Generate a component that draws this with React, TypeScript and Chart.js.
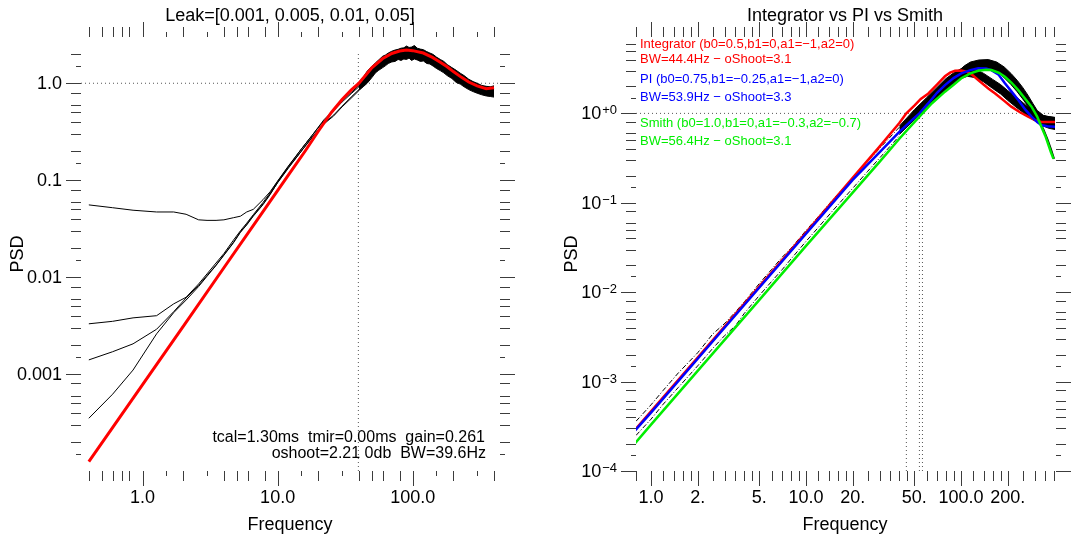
import React, { useEffect, useRef } from "react";
import { Chart, registerables } from "chart.js";

Chart.register(...registerables);

const FONT = '"Liberation Sans", Arial, Helvetica, sans-serif';

// ---------------- Left panel data ----------------
const leftTitle = "Leak=[0.001, 0.005, 0.01, 0.05]";
const leftInfo1 = "tcal=1.30ms  tmir=0.00ms  gain=0.261";
const leftInfo2 = "oshoot=2.21 0db  BW=39.6Hz";
const leftBW = 39.6;
const leftBWTop = 2.1;

const leftFreq = [0.4, 0.6, 0.85, 1.27, 1.7, 2.1, 2.6, 3.0, 3.5, 4.0, 4.7, 5.3, 5.9, 6.6, 7.8, 8.8, 10, 12, 15, 18, 22, 26, 30, 35, 40, 45, 50, 60, 70, 80, 90, 100, 120, 140, 160, 200, 250, 300, 350, 400];
const psdLeak005 = [0.0556, 0.052, 0.049, 0.047, 0.047, 0.0445, 0.039, 0.0385, 0.0385, 0.039, 0.041, 0.0425, 0.047, 0.05, 0.063, 0.076, 0.098, 0.14, 0.21, 0.29, 0.42, 0.53, 0.66, 0.8, 0.95, 1.1, 1.3, 1.65, 1.9, 2.02, 2.05, 2.02, 1.92, 1.75, 1.55, 1.22, 1.0, 0.87, 0.8, 0.8];
const psdLeak001 = [0.0033, 0.0035, 0.0038, 0.004, 0.0053, 0.0062, 0.0085, 0.0108, 0.014, 0.0175, 0.024, 0.03, 0.036, 0.044, 0.059, 0.074, 0.097, 0.138, 0.21, 0.29, 0.41, 0.52, 0.64, 0.78, 0.92, 1.08, 1.28, 1.62, 1.87, 2.0, 2.04, 2.02, 1.9, 1.73, 1.54, 1.2, 0.98, 0.86, 0.8, 0.79];
const psdLeak0005 = [0.0014, 0.0017, 0.00205, 0.0029, 0.0044, 0.0061, 0.0082, 0.0104, 0.0133, 0.017, 0.0228, 0.0292, 0.035, 0.043, 0.057, 0.072, 0.094, 0.133, 0.2, 0.275, 0.38, 0.46, 0.57, 0.7, 0.84, 1.0, 1.2, 1.55, 1.82, 1.95, 2.0, 1.98, 1.88, 1.7, 1.5, 1.18, 0.96, 0.84, 0.78, 0.77];
const psdLeak0001 = [0.00035, 0.00062, 0.0011, 0.0026, 0.0043, 0.0058, 0.008, 0.0102, 0.0132, 0.0168, 0.0225, 0.029, 0.0345, 0.0425, 0.056, 0.071, 0.095, 0.135, 0.2, 0.28, 0.385, 0.47, 0.58, 0.72, 0.86, 1.02, 1.22, 1.58, 1.84, 1.97, 2.01, 2.0, 1.89, 1.71, 1.52, 1.19, 0.97, 0.85, 0.79, 0.78];

const leftModelFreq = [0.4, 1, 2, 4, 8, 12, 16, 20, 25, 30, 35, 40, 50, 60, 70, 80, 90, 100, 120, 140, 160, 180, 200, 230, 260, 300, 350, 400];
const leftModelPsd = [1.25e-4, 7.8e-4, 3.1e-3, 0.0125, 0.05, 0.113, 0.2, 0.32, 0.5, 0.68, 0.85, 1.0, 1.45, 1.8, 2.03, 2.15, 2.2, 2.17, 2.05, 1.85, 1.65, 1.48, 1.32, 1.15, 1.03, 0.94, 0.88, 0.9];

const leftNoiseFreq = [40, 43, 46, 50, 53, 56, 60, 63, 66, 70, 74, 78, 82, 86, 90, 94, 98, 103, 108, 114, 120, 127, 134, 142, 150, 160, 170, 180, 195, 210, 225, 240, 260, 280, 300, 325, 350, 375, 400];
const leftNoiseHigh = [1.03, 1.15, 1.33, 1.5, 1.62, 1.74, 1.9, 1.96, 2.05, 2.14, 2.2, 2.24, 2.3, 2.32, 2.42, 2.34, 2.36, 2.45, 2.3, 2.25, 2.22, 2.12, 2.05, 1.98, 1.86, 1.76, 1.68, 1.56, 1.45, 1.36, 1.27, 1.2, 1.1, 1.04, 1.0, 0.95, 0.93, 0.92, 0.94];
const leftNoiseLow = [0.85, 0.92, 1.0, 1.15, 1.28, 1.36, 1.45, 1.52, 1.6, 1.66, 1.68, 1.76, 1.72, 1.78, 1.76, 1.82, 1.72, 1.78, 1.74, 1.68, 1.7, 1.6, 1.58, 1.5, 1.42, 1.35, 1.28, 1.2, 1.12, 1.02, 0.98, 0.92, 0.86, 0.82, 0.79, 0.76, 0.74, 0.73, 0.72];

const leftXMajor = [1, 10, 100];
const leftXLabels = ["1.0", "10.0", "100.0"];
const leftXMinor = [0.4, 0.5, 0.6, 0.7, 0.8, 2, 4, 5, 6, 8, 20, 40, 50, 60, 80, 200, 400];
const leftXShort = [1.5, 3, 15, 30, 150, 300];
const leftYMajor = [0.001, 0.01, 0.1, 1];
const leftYLabels = ["0.001", "0.01", "0.1", "1.0"];
const leftYMinor = [2e-4, 3e-4, 4e-4, 5e-4, 6e-4, 8e-4, 2e-3, 3e-3, 4e-3, 5e-3, 6e-3, 8e-3, 0.02, 0.03, 0.04, 0.05, 0.06, 0.08, 0.2, 0.3, 0.4, 0.5, 0.6, 0.8, 2];
const leftYShort = [1.5e-4, 1.5e-3, 0.015, 0.15, 1.5];

// ---------------- Right panel data ----------------
const rightTitle = "Integrator vs PI vs Smith";
const legendIntegrator = ["Integrator (b0=0.5,b1=0,a1=\u22121,a2=0)", "BW=44.4Hz \u2212 oShoot=3.1"];
const legendPI = ["PI (b0=0.75,b1=\u22120.25,a1=\u22121,a2=0)", "BW=53.9Hz \u2212 oShoot=3.3"];
const legendSmith = ["Smith (b0=1.0,b1=0,a1=\u22120.3,a2=\u22120.7)", "BW=56.4Hz \u2212 oShoot=3.1"];
const rightBW = [44.4, 53.9, 56.4];
const rightBWTop = [0.65, 0.95, 0.97];

const intFreq = [0.79, 1, 2, 5, 10, 20, 30, 40, 44.4, 50, 55, 61.6, 70, 78.8, 85, 91.5, 100, 108.8, 118, 129, 150, 166, 190, 211, 240, 271, 300, 330, 360, 404];
const intPsd = [2.9e-4, 4.64e-4, 1.86e-3, 0.0116, 0.0464, 0.19, 0.43, 0.78, 1.0, 1.22, 1.45, 1.67, 2.1, 2.6, 2.85, 3.0, 3.02, 2.93, 2.7, 2.36, 1.9, 1.67, 1.38, 1.19, 1.03, 0.92, 0.84, 0.8, 0.8, 0.8];
const piFreq = [0.79, 1, 2, 5, 10, 20, 30, 40, 48.2, 53.9, 61.6, 70, 78.8, 90, 100.5, 115, 129, 145, 157, 175, 192, 212, 234, 260, 285, 310, 330, 360, 404];
const piPsd = [2.85e-4, 4.5e-4, 1.8e-3, 0.0113, 0.045, 0.18, 0.37, 0.62, 0.84, 1.0, 1.3, 1.7, 2.07, 2.5, 2.8, 3.05, 3.19, 3.17, 3.05, 2.7, 2.17, 1.75, 1.41, 1.1, 0.92, 0.8, 0.74, 0.72, 0.71];
const smithFreq = [0.79, 1, 2, 5, 10, 20, 30, 40, 50, 56.4, 65, 78.8, 90, 100.5, 115, 129, 145, 157, 175, 192, 212, 234, 260, 285, 310, 330, 350, 364, 380, 395];
const smithPsd = [2.05e-4, 3.3e-4, 1.32e-3, 8.2e-3, 0.033, 0.13, 0.29, 0.52, 0.8, 1.0, 1.3, 1.75, 2.1, 2.47, 2.8, 3.0, 3.08, 3.05, 2.85, 2.57, 2.2, 1.82, 1.45, 1.19, 0.92, 0.71, 0.56, 0.46, 0.37, 0.31];

const rightDataFreq = [0.8, 1, 1.2, 1.5, 2, 2.5, 3, 3.5, 4, 5, 6, 7, 8, 10, 12, 15, 20, 25, 30, 40];
const rightDataHi = [3.6e-4, 5.5e-4, 8.0e-4, 1.25e-3, 2.1e-3, 3.4e-3, 4.5e-3, 6.0e-3, 7.8e-3, 0.0125, 0.018, 0.0245, 0.031, 0.049, 0.07, 0.11, 0.19, 0.29, 0.41, 0.7];
const rightDataLo = [2.5e-4, 3.8e-4, 5.6e-4, 8.6e-4, 1.5e-3, 2.35e-3, 3.3e-3, 4.2e-3, 5.8e-3, 9.2e-3, 0.0132, 0.0178, 0.0235, 0.037, 0.053, 0.083, 0.145, 0.225, 0.32, 0.56];

const rightBandAFreq = [40, 50, 60, 70, 80, 90, 100, 110, 125, 140, 160, 180, 200, 230, 260, 290, 320, 360, 404];
const rightBandAHigh = [0.72, 1.1, 1.5, 1.95, 2.45, 2.85, 3.15, 3.25, 3.1, 2.8, 2.4, 2.1, 1.8, 1.5, 1.25, 1.06, 0.96, 0.92, 0.9];
const rightBandALow = [0.58, 0.85, 1.15, 1.45, 1.8, 2.15, 2.45, 2.6, 2.5, 2.25, 1.9, 1.65, 1.4, 1.15, 0.98, 0.85, 0.78, 0.72, 0.7];
const rightBandBFreq = [85, 95, 105, 115, 130, 150, 170, 190, 210, 230, 250, 270, 290, 310, 340, 370, 404];
const rightBandBHigh = [2.4, 2.9, 3.4, 3.75, 3.95, 4.0, 3.75, 3.3, 2.8, 2.35, 1.95, 1.6, 1.3, 1.08, 0.95, 0.92, 0.9];
const rightBandBLow = [2.0, 2.4, 2.75, 3.0, 3.15, 3.2, 2.95, 2.5, 2.1, 1.75, 1.45, 1.2, 0.98, 0.82, 0.72, 0.68, 0.66];
const rightTailFreq = [320, 340, 360, 380, 398];
const rightTailPsd = [0.8, 0.66, 0.52, 0.4, 0.31];

const rightXMajor = [1, 2, 5, 10, 20, 50, 100, 200];
const rightXLabels = ["1.0", "2.", "5.", "10.0", "20.", "50.", "100.0", "200."];
const rightXMinor = [0.8, 1.2, 1.4, 1.6, 1.8, 2.5, 3, 3.5, 4, 4.5, 6, 7, 8, 9, 12, 14, 16, 18, 25, 30, 35, 40, 45, 60, 70, 80, 90, 120, 140, 160, 180, 250, 300, 350, 400];
const rightYMajor = [1e-4, 1e-3, 1e-2, 1e-1, 1];
const rightYLabels = ["10", "10", "10", "10", "10"];
const rightYExp = ["\u22124", "\u22123", "\u22122", "\u22121", "+0"];
const rightYMinor = [2e-4, 3e-4, 4e-4, 5e-4, 6e-4, 8e-4, 2e-3, 3e-3, 4e-3, 5e-3, 6e-3, 8e-3, 0.02, 0.03, 0.04, 0.05, 0.06, 0.08, 0.2, 0.3, 0.4, 0.5, 0.6, 0.8, 2, 3, 4, 5, 6];
const rightYShort = [1.5e-4, 1.5e-3, 0.015, 0.15, 1.5];

const RED = "#ff0000";
const BLUE = "#0000ff";
const GREEN = "#00ee00";

// ---------------- helpers ----------------
const pts = (xs: number[], ys: number[]) => xs.map((x, i) => ({ x, y: ys[i] }));

type Txt = { text: string; x: number; y: number; size: number; color?: string; align?: CanvasTextAlign; rotate?: boolean };
type AxisSpec = {
  xMajor: number[]; xMinor: number[]; xShort: number[]; xLabels: string[];
  yMajor: number[]; yMinor: number[]; yShort: number[]; yLabels: string[]; yExp?: string[];
  texts: Txt[];
};

function makeAxesPlugin(spec: AxisSpec) {
  return {
    id: "idlAxes",
    afterDraw(chart: any) {
      const ctx: CanvasRenderingContext2D = chart.ctx;
      const a = chart.chartArea;
      const xs = chart.scales.x;
      const ys = chart.scales.y;
      ctx.save();
      ctx.strokeStyle = "#3c3c3c";
      ctx.lineWidth = 1;
      ctx.beginPath();
      const xt = (vals: number[], len: number) => {
        for (const v of vals) {
          const p = Math.round(xs.getPixelForValue(v)) + 0.5;
          ctx.moveTo(p, a.bottom); ctx.lineTo(p, a.bottom + len);
          ctx.moveTo(p, a.top); ctx.lineTo(p, a.top - len);
        }
      };
      const yt = (vals: number[], len: number) => {
        for (const v of vals) {
          const p = Math.round(ys.getPixelForValue(v)) + 0.5;
          ctx.moveTo(a.left - len, p); ctx.lineTo(a.left, p);
          ctx.moveTo(a.right, p); ctx.lineTo(a.right + len, p);
        }
      };
      xt(spec.xMajor, 15); xt(spec.xMinor, 10); xt(spec.xShort, 5);
      yt(spec.yMajor, 15); yt(spec.yMinor, 10); yt(spec.yShort, 5);
      ctx.stroke();

      ctx.fillStyle = "#000";
      ctx.font = `18px ${FONT}`;
      ctx.textAlign = "center";
      ctx.textBaseline = "middle";
      spec.xMajor.forEach((v, i) => {
        ctx.fillText(spec.xLabels[i], xs.getPixelForValue(v), a.bottom + 27);
      });
      spec.yMajor.forEach((v, i) => {
        const p = ys.getPixelForValue(v);
        const right = a.left - 19;
        if (spec.yExp) {
          ctx.font = `13px ${FONT}`;
          const ew = ctx.measureText(spec.yExp[i]).width;
          ctx.textAlign = "left";
          ctx.textBaseline = "alphabetic";
          ctx.fillText(spec.yExp[i], right - ew, p + 1);
          ctx.font = `18px ${FONT}`;
          ctx.textAlign = "right";
          ctx.textBaseline = "middle";
          ctx.fillText(spec.yLabels[i], right - ew - 1, p + 1);
        } else {
          ctx.font = `18px ${FONT}`;
          ctx.textAlign = "right";
          ctx.textBaseline = "middle";
          ctx.fillText(spec.yLabels[i], right, p + 1);
        }
      });
      for (const t of spec.texts) {
        ctx.save();
        ctx.font = `${t.size}px ${FONT}`;
        ctx.fillStyle = t.color || "#000";
        ctx.textAlign = t.align || "center";
        ctx.textBaseline = "middle";
        ctx.translate(t.x, t.y);
        if (t.rotate) ctx.rotate(-Math.PI / 2);
        ctx.fillText(t.text, 0, 0);
        ctx.restore();
      }
      ctx.restore();
    },
  };
}

const baseOptions = (padding: any, xr: [number, number], yr: [number, number]) => ({
  animation: false as const,
  responsive: false,
  devicePixelRatio: 1,
  layout: { padding },
  plugins: { legend: { display: false }, tooltip: { enabled: false }, title: { display: false } },
  elements: { point: { radius: 0 }, line: { tension: 0 } },
  scales: {
    x: { type: "logarithmic" as const, min: xr[0], max: xr[1], display: false },
    y: { type: "logarithmic" as const, min: yr[0], max: yr[1], display: false },
  },
});

const dotted = (data: any[]) => ({
  data, borderColor: "#555", borderWidth: 1, borderDash: [1, 3], fill: false, order: 30,
});

function leftConfig(): any {
  const thin = (ys: number[]) => ({ data: pts(leftFreq, ys), borderColor: "#000", borderWidth: 1, fill: false, order: 10 });
  return {
    type: "line",
    data: {
      datasets: [
        { data: pts(leftModelFreq, leftModelPsd), borderColor: RED, borderWidth: 3, fill: false, order: 0 },
        thin(psdLeak0001), thin(psdLeak0005), thin(psdLeak001), thin(psdLeak005),
        { data: pts(leftNoiseFreq, leftNoiseHigh), borderColor: "#000", borderWidth: 1, fill: false, order: 11 },
        { data: pts(leftNoiseFreq, leftNoiseLow), borderColor: "#000", borderWidth: 1, fill: "-1", backgroundColor: "#000", order: 11 },
        dotted([{ x: 0.35, y: 1 }, { x: 443, y: 1 }]),
        dotted([{ x: leftBW, y: 1e-4 }, { x: leftBW, y: leftBWTop }]),
      ],
    },
    options: baseOptions({ left: 81, right: 42, top: 37, bottom: 64 }, [0.35, 443], [1e-4, 3]),
    plugins: [makeAxesPlugin({
      xMajor: leftXMajor, xMinor: leftXMinor, xShort: leftXShort, xLabels: leftXLabels,
      yMajor: leftYMajor, yMinor: leftYMinor, yShort: leftYShort, yLabels: leftYLabels,
      texts: [
        { text: leftTitle, x: 290, y: 16, size: 18 },
        { text: "Frequency", x: 290, y: 525, size: 18 },
        { text: "PSD", x: 18, y: 254, size: 18, rotate: true },
        { text: leftInfo1, x: 485, y: 438, size: 16, align: "right" },
        { text: leftInfo2, x: 486, y: 454, size: 16, align: "right" },
      ],
    })],
  };
}

function rightConfig(): any {
  const dashed = (ys: number[]) => ({ data: pts(rightDataFreq, ys), borderColor: "#000", borderWidth: 1, borderDash: [5, 2, 1, 2], fill: false, order: 12 });
  return {
    type: "line",
    data: {
      datasets: [
        { data: pts(smithFreq, smithPsd), borderColor: GREEN, borderWidth: 2.5, fill: false, order: 0 },
        { data: pts(piFreq, piPsd), borderColor: BLUE, borderWidth: 2.5, fill: false, order: 1 },
        { data: pts(intFreq, intPsd), borderColor: RED, borderWidth: 2.5, fill: false, order: 2 },
        dashed(rightDataHi), dashed(rightDataLo),
        { data: pts(rightBandAFreq, rightBandAHigh), borderColor: "#000", borderWidth: 1, fill: false, order: 11 },
        { data: pts(rightBandAFreq, rightBandALow), borderColor: "#000", borderWidth: 1, fill: "-1", backgroundColor: "#000", order: 11 },
        { data: pts(rightBandBFreq, rightBandBHigh), borderColor: "#000", borderWidth: 1, fill: false, order: 11 },
        { data: pts(rightBandBFreq, rightBandBLow), borderColor: "#000", borderWidth: 1, fill: "-1", backgroundColor: "#000", order: 11 },
        { data: pts(rightTailFreq, rightTailPsd), borderColor: "#000", borderWidth: 2, fill: false, order: 11 },
        dotted([{ x: 0.8, y: 1 }, { x: 410, y: 1 }]),
        ...rightBW.map((bw, i) => dotted([{ x: bw, y: 1e-4 }, { x: bw, y: rightBWTop[i] }])),
      ],
    },
    options: baseOptions({ left: 94, right: 29, top: 37, bottom: 64 }, [0.8, 410], [1e-4, 7.15]),
    plugins: [makeAxesPlugin({
      xMajor: rightXMajor, xMinor: rightXMinor, xShort: [], xLabels: rightXLabels,
      yMajor: rightYMajor, yMinor: rightYMinor, yShort: rightYShort, yLabels: rightYLabels, yExp: rightYExp,
      texts: [
        { text: rightTitle, x: 303, y: 16, size: 18 },
        { text: "Frequency", x: 303, y: 525, size: 18 },
        { text: "PSD", x: 30, y: 254, size: 18, rotate: true },
        { text: legendIntegrator[0], x: 98, y: 44, size: 13, color: RED, align: "left" },
        { text: legendIntegrator[1], x: 98, y: 59, size: 13, color: RED, align: "left" },
        { text: legendPI[0], x: 98, y: 79, size: 13, color: BLUE, align: "left" },
        { text: legendPI[1], x: 98, y: 97, size: 13, color: BLUE, align: "left" },
        { text: legendSmith[0], x: 98, y: 123, size: 13, color: GREEN, align: "left" },
        { text: legendSmith[1], x: 98, y: 141, size: 13, color: GREEN, align: "left" },
      ],
    })],
  };
}

function Panel({ make, left, width }: { make: () => any; left: number; width: number }) {
  const ref = useRef<HTMLCanvasElement>(null);
  useEffect(() => {
    const chart = new Chart(ref.current as HTMLCanvasElement, make());
    return () => chart.destroy();
  }, []);
  return (
    <canvas
      ref={ref}
      width={width}
      height={535}
      style={{ position: "absolute", left, top: 0, width, height: 535, display: "block" }}
    />
  );
}

export default function App() {
  return (
    <div style={{ position: "fixed", left: 0, top: 0, width: 1085, height: 535, background: "#fff" }}>
      <Panel make={leftConfig} left={0} width={542} />
      <Panel make={rightConfig} left={542} width={543} />
    </div>
  );
}
